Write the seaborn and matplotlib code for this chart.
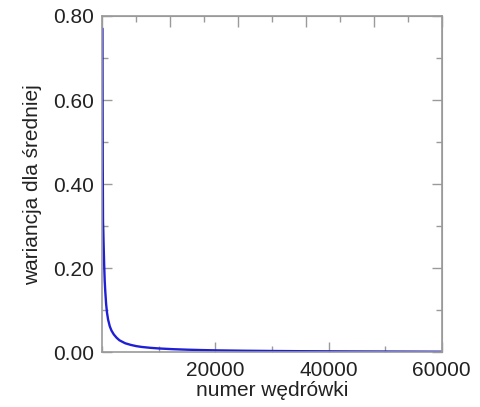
import numpy as np
import pandas as pd
import matplotlib
matplotlib.use("Agg")
import matplotlib.pyplot as plt
import seaborn as sns
from matplotlib.ticker import MultipleLocator, NullFormatter

# values
wedrowka = [1, 20, 50, 100, 150, 200, 300, 400, 500, 650, 800, 1000, 1300,
            1600, 2000, 2500, 3000, 4000, 5000, 6000, 7000, 8500, 10000,
            12500, 15000, 17500, 20000, 25000, 30000, 35000, 40000, 45000,
            50000, 55000, 60000]
wariancja = [0.77, 0.62, 0.45, 0.31, 0.29, 0.26, 0.21, 0.17, 0.145, 0.115,
             0.095, 0.078, 0.062, 0.052, 0.043, 0.035, 0.029, 0.022, 0.018,
             0.015, 0.013, 0.011, 0.0095, 0.0078, 0.0066, 0.0057, 0.005,
             0.0041, 0.0035, 0.003, 0.0027, 0.0024, 0.0022, 0.002, 0.0018]

df = pd.DataFrame({"x": wedrowka, "y": wariancja})

sns.set_style("white")
plt.rcParams['font.family'] = ['Liberation Sans', 'DejaVu Sans']

fig = plt.figure(figsize=(4.81, 4.07), dpi=100)
ax = fig.add_axes([0.213, 0.134, 0.705, 0.827])

sns.lineplot(data=df, x="x", y="y", color="#1f1fd6", linewidth=1.7, ax=ax)

ax.set_xlim(0, 60000)
ax.set_ylim(0, 0.8)
ax.xaxis.set_major_locator(MultipleLocator(20000))
ax.xaxis.set_minor_locator(MultipleLocator(10000))
ax.yaxis.set_major_locator(MultipleLocator(0.2))
ax.yaxis.set_minor_locator(MultipleLocator(0.1))
ax.set_xticks([20000, 40000, 60000])
ax.set_yticks([0, 0.2, 0.4, 0.6, 0.8])
ax.set_yticklabels(["0.00", "0.20", "0.40", "0.60", "0.80"])

gray = "#9a9a9a"
for s in ax.spines.values():
    s.set_color(gray)
    s.set_linewidth(1.2)

# seaborn "white" switches off bottom/left ticks, turn them back on
ax.tick_params(which="both", bottom=True, left=True)
ax.tick_params(which="major", direction="in", length=7, width=1, color=gray,
               labelsize=15, labelcolor="#222222")
ax.tick_params(which="minor", direction="in", length=4, width=1, color=gray)
ax.tick_params(axis="x", pad=6)
ax.tick_params(axis="y", pad=6)

# top axis with its own tick spacing, right axis mirrors left
top = ax.secondary_xaxis("top")
top.xaxis.set_major_locator(MultipleLocator(12000))
top.xaxis.set_minor_locator(MultipleLocator(6000))
top.xaxis.set_major_formatter(NullFormatter())
top.tick_params(which="both", top=True)
top.tick_params(which="major", direction="in", length=8, width=1, color=gray)
top.tick_params(which="minor", direction="in", length=4, width=1, color=gray)
top.spines["top"].set_color(gray)

right = ax.secondary_yaxis("right")
right.yaxis.set_major_locator(MultipleLocator(0.2))
right.yaxis.set_minor_locator(MultipleLocator(0.1))
right.yaxis.set_major_formatter(NullFormatter())
right.tick_params(which="both", right=True)
right.tick_params(which="major", direction="in", length=7, width=1, color=gray)
right.tick_params(which="minor", direction="in", length=4, width=1, color=gray)
right.spines["right"].set_color(gray)

ax.set_xlabel("numer wędrówki", fontsize=15, color="#222222", labelpad=1)
ax.set_ylabel("wariancja dla średniej", fontsize=15, color="#222222", labelpad=8)

fig.savefig("out.png", dpi=100)
